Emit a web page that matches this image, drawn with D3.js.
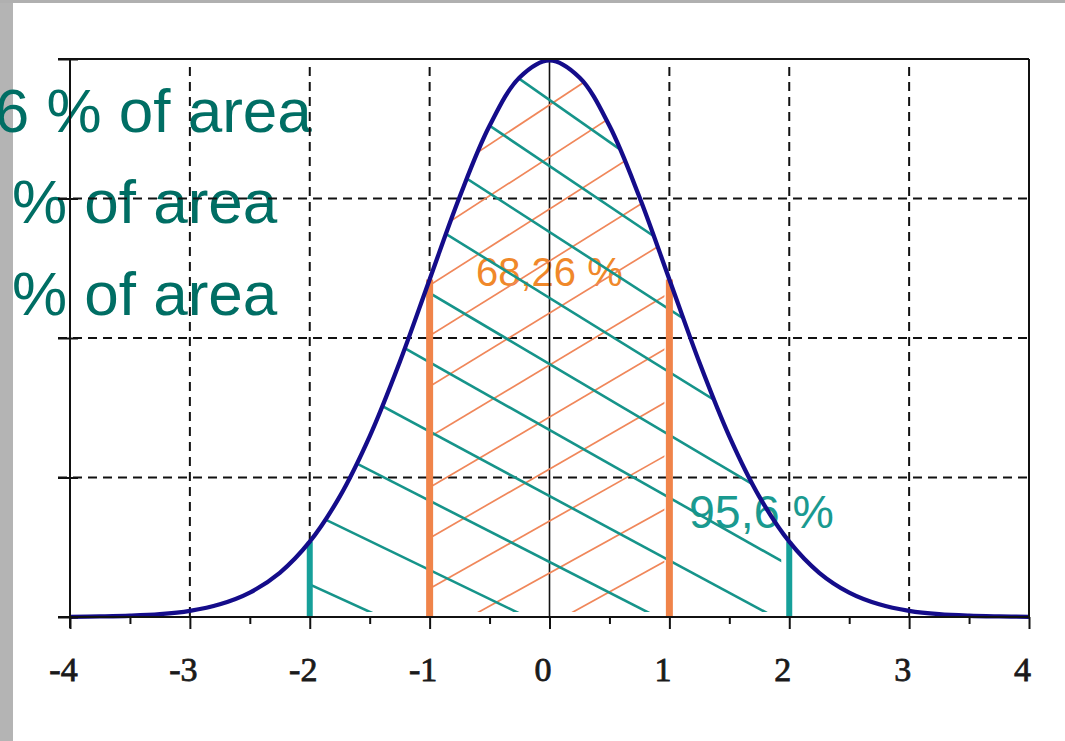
<!DOCTYPE html>
<html>
<head>
<meta charset="utf-8">
<script src="https://cdn.jsdelivr.net/npm/d3@7"></script>
<style>
  html, body { margin: 0; padding: 0; background: #fff; overflow: hidden; }
  svg { display: block; }
</style>
</head>
<body>
<svg id="chart" width="1065" height="741"></svg>
<script>
// ---- data ----
const zValues = [-4, -3.75, -3.5, -3.25, -3, -2.75, -2.5, -2.25, -2, -1.75, -1.5, -1.25, -1, -0.75, -0.5, -0.25,
                 0, 0.25, 0.5, 0.75, 1, 1.25, 1.5, 1.75, 2, 2.25, 2.5, 2.75, 3, 3.25, 3.5, 3.75, 4];
const densityValues = [0.0001, 0.0004, 0.0009, 0.002, 0.0044, 0.0091, 0.0175, 0.0317, 0.054, 0.0863, 0.1295, 0.1826,
                       0.242, 0.3011, 0.3521, 0.3867, 0.399, 0.3867, 0.3521, 0.3011, 0.242, 0.1826, 0.1295, 0.0863,
                       0.054, 0.0317, 0.0175, 0.0091, 0.0044, 0.002, 0.0009, 0.0004, 0.0001];
const xTickValues = [-4, -3, -2, -1, 0, 1, 2, 3, 4];
const xMinorTicks = [-3.5, -2.5, -1.5, -0.5, 0.5, 1.5, 2.5, 3.5];
const yTickValues = [0, 0.1, 0.2, 0.3, 0.4];
const xGrid = [-3, -2, -1, 1, 2, 3];
const yGrid = [0.1, 0.2, 0.3];
const band68 = [-1, 1];
const band95 = [-2, 2];
const label68 = "68,26 %";
const label95 = "95,6 %";
const sideTexts = ["68,26 % of area", "95,6 % of area", "99,7 % of area"];

const points = zValues.map((z, i) => ({ z, d: densityValues[i] }));
const dens = z => points.find(p => p.z === z).d;

const svg = d3.select("#chart");
const W = 1065, H = 741;
const x = d3.scaleLinear().domain([-4, 4]).range([70, 1029]);
const y = d3.scaleLinear().domain([0, 0.4]).range([617, 59]);
const sans = "'Liberation Sans', Arial, sans-serif";

// background + grey page edges
svg.append("rect").attr("width", W).attr("height", H).attr("fill", "#ffffff");
svg.append("rect").attr("x", 0).attr("y", 0).attr("width", 13).attr("height", H).attr("fill", "#b4b4b4");
svg.append("rect").attr("x", 0).attr("y", 0).attr("width", W).attr("height", 3).attr("fill", "#b0b0b0");

// side texts (lie under the grid)
const sideY = [132, 223, 315];
svg.selectAll("text.side").data(sideTexts).join("text")
  .attr("class", "side")
  .attr("x", -126).attr("y", (d, i) => sideY[i]).text(d => d)
  .attr("font-family", sans).attr("font-size", 62).attr("fill", "#006e64");

// percentage labels (under hatch and curve)
svg.append("text").attr("x", 476).attr("y", 286).text(label68)
  .attr("font-family", sans).attr("font-size", 40).attr("fill", "#f0882a");
svg.append("text").attr("x", 689).attr("y", 528).text(label95)
  .attr("font-family", sans).attr("font-size", 46.5).attr("fill", "#1a9a90");

// grid
const grid = svg.append("g");
grid.selectAll("line.v").data(xGrid).join("line")
  .attr("x1", d => x(d)).attr("x2", d => x(d))
  .attr("y1", y(0.4) + 8).attr("y2", y(0))
  .attr("stroke", "#111").attr("stroke-width", 2).attr("stroke-dasharray", "9,6");
grid.selectAll("line.h").data(yGrid).join("line")
  .attr("x1", x(-4) - 12).attr("x2", x(4))
  .attr("y1", d => y(d)).attr("y2", d => y(d))
  .attr("stroke", "#111").attr("stroke-width", 2).attr("stroke-dasharray", "9,6");
svg.append("line").attr("x1", x(0)).attr("x2", x(0)).attr("y1", y(0.4)).attr("y2", y(0))
  .attr("stroke", "#111").attr("stroke-width", 1.6);

// clip paths
const defs = svg.append("defs");
const area = d3.area().x(p => x(p.z)).y0(y(0) - 5).y1(p => y(p.d)).curve(d3.curveCatmullRom);
defs.append("clipPath").attr("id", "under").append("path").attr("d", area(points));
defs.append("clipPath").attr("id", "r68").append("rect")
  .attr("x", x(band68[0]) + 3).attr("y", 0).attr("width", x(band68[1]) - x(band68[0]) - 8).attr("height", H);
defs.append("clipPath").attr("id", "r95").append("rect")
  .attr("x", x(band95[0])).attr("y", 0).attr("width", x(band95[1]) - x(band95[0]) - 8).attr("height", H);

// hatch lines (pixel-space pattern, slope may fan slightly)
function hatch(g, cy0, spacing, slope0, slopeStep, color, width) {
  const xc = x(0), xa = x(-4), xb = x(4);
  const ks = d3.range(-14, 15);
  const s = k => slope0 + slopeStep * Math.max(0, Math.min(9, k));
  g.selectAll("line").data(ks).join("line")
    .attr("x1", xa).attr("x2", xb)
    .attr("y1", k => cy0 + k * spacing + s(k) * (xa - xc))
    .attr("y2", k => cy0 + k * spacing + s(k) * (xb - xc))
    .attr("stroke", color).attr("stroke-width", width);
}
const g68 = svg.append("g").attr("clip-path", "url(#r68)").append("g").attr("clip-path", "url(#under)");
hatch(g68, 105, 52, -0.66, 0.012, "#f0875a", 1.7);
const g95 = svg.append("g").attr("clip-path", "url(#r95)").append("g").attr("clip-path", "url(#under)");
hatch(g95, 100, 66, 0.7, -0.027, "#16948a", 2.6);

// bars at band edges
svg.selectAll("line.b68").data(band68).join("line")
  .attr("x1", d => x(d)).attr("x2", d => x(d)).attr("y1", d => y(dens(d))).attr("y2", y(0))
  .attr("stroke", "#f0844a").attr("stroke-width", 7);
svg.selectAll("line.b95").data(band95).join("line")
  .attr("x1", d => x(d)).attr("x2", d => x(d)).attr("y1", d => y(dens(d))).attr("y2", y(0))
  .attr("stroke", "#16a09a").attr("stroke-width", 6);

// curve
svg.append("path").datum(points)
  .attr("d", d3.line().x(p => x(p.z)).y(p => y(p.d)).curve(d3.curveCatmullRom))
  .attr("fill", "none").attr("stroke", "#140c8a").attr("stroke-width", 4.3).attr("stroke-linejoin", "round");

// frame
svg.append("line").attr("x1", x(-4) - 12).attr("x2", x(4)).attr("y1", y(0.4)).attr("y2", y(0.4)).attr("stroke", "#111").attr("stroke-width", 2);
svg.append("line").attr("x1", x(4)).attr("x2", x(4)).attr("y1", y(0.4)).attr("y2", y(0)).attr("stroke", "#111").attr("stroke-width", 2);

// axes
const axMinor = d3.axisBottom(x).tickValues(xMinorTicks).tickSize(7).tickFormat("");
const axMajor = d3.axisBottom(x).tickValues(xTickValues).tickSize(12).tickPadding(30);
const gMinor = svg.append("g").attr("transform", `translate(0,${y(0)})`).call(axMinor);
const gMajor = svg.append("g").attr("transform", `translate(0,${y(0)})`).call(axMajor);
[gMinor, gMajor].forEach(g => {
  g.select(".domain").remove();
  g.selectAll(".tick line").attr("stroke", "#111").attr("stroke-width", 2);
});
gMajor.selectAll(".tick text")
  .attr("font-family", "'Liberation Serif', 'Times New Roman', serif")
  .attr("font-size", 34).attr("fill", "#1a1a1a").attr("stroke", "#1a1a1a").attr("stroke-width", 0.8)
  .attr("dx", -7).attr("dy", 0).attr("y", 64)
  .text(d => d);
svg.append("line").attr("x1", x(-4) - 12).attr("x2", x(4)).attr("y1", y(0)).attr("y2", y(0)).attr("stroke", "#111").attr("stroke-width", 2);

const axY = d3.axisLeft(y).tickValues(yTickValues).tickSize(12).tickFormat("");
const gY = svg.append("g").attr("transform", `translate(${x(-4)},0)`).call(axY);
gY.select(".domain").remove();
gY.selectAll(".tick line").attr("x1", 8).attr("stroke", "#111").attr("stroke-width", 2);
svg.append("line").attr("x1", x(-4)).attr("x2", x(-4)).attr("y1", y(0.4)).attr("y2", y(0) + 11).attr("stroke", "#111").attr("stroke-width", 2);
</script>
</body>
</html>
